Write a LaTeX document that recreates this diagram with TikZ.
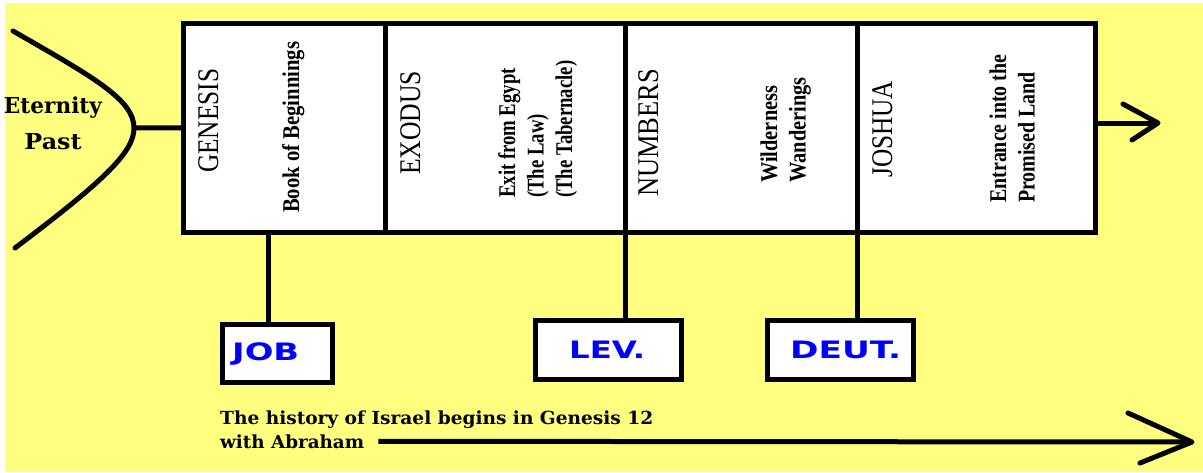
\documentclass[tikz,border=0pt]{standalone}
\usepackage{fontspec}
\usepackage{graphicx}
\setmainfont{Liberation Serif}
\newfontfamily\slabfont{DejaVu Serif}
\newfontfamily\tagfont{DejaVu Sans}
% stretch or squeeze a text to a given width, keeping its height
\newcommand\fitto[2]{\resizebox{#1}{\height}{#2}}
\definecolor{paper}{RGB}{255,255,128}
\definecolor{tagblue}{RGB}{0,0,255}

\begin{document}
\begin{tikzpicture}[x=1pt,y=-1pt,
  cell/.style={draw, line width=5pt, fill=white, minimum height=209.5pt, inner sep=0pt, outer sep=0pt},
  tagbox/.style={draw, line width=5pt, fill=white, inner sep=0pt, outer sep=0pt},
  wire/.style={line width=5pt},
  barb/.style={line width=5pt, line cap=round, line join=round},
  title/.style={rotate=90, anchor=base west, inner sep=0pt, font=\fontsize{30}{36}\selectfont},
  note/.style={rotate=90, anchor=base west, inner sep=0pt, font=\bfseries\fontsize{24}{28.5}\selectfont},
  tag/.style={anchor=base west, inner sep=0pt, text=tagblue, font=\tagfont\bfseries\fontsize{24}{28}\selectfont},
  caption/.style={anchor=base west, inner sep=0pt, font=\slabfont\bfseries\fontsize{18}{24}\selectfont},
]
\useasboundingbox (0,0) rectangle (1203,472);
\fill[white] (0,0) rectangle (1203,472);
\fill[paper] (5,3) rectangle (1203,472);

% the four books of the main strip
\node[cell, minimum width=202.5pt] (gen) at (284.25,127.75) {};
\node[cell, minimum width=239.5pt] (exo) at (505.25,127.75) {};
\node[cell, minimum width=232.5pt] (num) at (741.25,127.75) {};
\node[cell, minimum width=238pt]   (jos) at (976.5,127.75) {};

\node[title] (gentitle) at (218,173) {\fitto{104pt}{GENESIS}};
\node[title] (exotitle) at (420,175) {\fitto{104pt}{EXODUS}};
\node[title] (numtitle) at (658,197) {\fitto{128pt}{NUMBERS}};
\node[title] (jostitle) at (892,178) {\fitto{97pt}{JOSHUA}};

\node[note] (gendesc) at (299,213) {\fitto{171pt}{Book of Beginnings}};
\node[note] (exodesc) at (515,198) {\scalebox{0.78}[1]{\begin{tabular}[t]{@{}l@{}}Exit from Egypt\\(The Law)\\(The Tabernacle)\end{tabular}}};
\node[note] (numdesc) at (777,183) {\scalebox{0.85}[1]{\begin{tabular}[t]{@{}l@{}}Wilderness\\Wanderings\end{tabular}}};
\node[note] (josdesc) at (1006,203) {\scalebox{0.83}[1]{\begin{tabular}[t]{@{}l@{}}Entrance into the\\Promised Land\end{tabular}}};

% eternity past, opening into Genesis
\node[anchor=base, inner sep=0pt, font=\slabfont\bfseries\fontsize{22}{36}\selectfont] (past) at (53,113)
  {\begin{tabular}[t]{@{}c@{}}\fitto{98pt}{Eternity}\\\fitto{57pt}{Past}\end{tabular}};
\coordinate (vertex) at (134,128);
\draw[wire, line cap=round] (13,31) .. controls (95,78) and (134,100) .. (vertex)
  .. controls (134,152) and (105,180) .. (15,248);
\draw[wire] (vertex) -- (gen.west);

% onward arrow after Joshua
\coordinate (headA) at (1158,123);
\coordinate (barbA1) at (1123,104);
\coordinate (barbA2) at (1132,140);
\draw[wire] ([yshift=4.75pt]jos.east) -- (headA);
\draw[barb] (barbA1) -- (headA) -- (barbA2);

% books hanging below the strip
\node[tagbox, minimum width=110pt, minimum height=58.5pt] (job) at (277.5,353.25) {};
\node[tagbox, minimum width=146pt, minimum height=59pt] (lev) at (608.5,350) {};
\node[tagbox, minimum width=146pt, minimum height=59pt] (deut) at (840.5,350) {};
\node[tag] (jobtag) at (232,360) {\fitto{67pt}{JOB}};
\node[tag] (levtag) at (569,358) {\fitto{76pt}{LEV.}};
\node[tag] (deuttag) at (790,358) {\fitto{111pt}{DEUT.}};

\draw[wire] ([xshift=-9.5pt]job.north) -- ([xshift=-9.5pt]job.north |- gen.south);
\draw[wire] (num.south west) -- (num.south west |- lev.north);
\draw[wire] (jos.south west) -- (jos.south west |- deut.north);

% history line
\node[caption] (hist1) at (220,424) {\fitto{433pt}{The history of Israel begins in Genesis 12}};
\node[caption] (hist2) at (220,448) {\fitto{144pt}{with Abraham}};
\coordinate (headB) at (1192,442);
\coordinate (barbB1) at (1128,413);
\coordinate (barbB2) at (1140,463);
\draw[wire] ([xshift=14pt]hist2.east) -- (headB);
\draw[barb] (barbB1) -- (headB) -- (barbB2);
\end{tikzpicture}
\end{document}
